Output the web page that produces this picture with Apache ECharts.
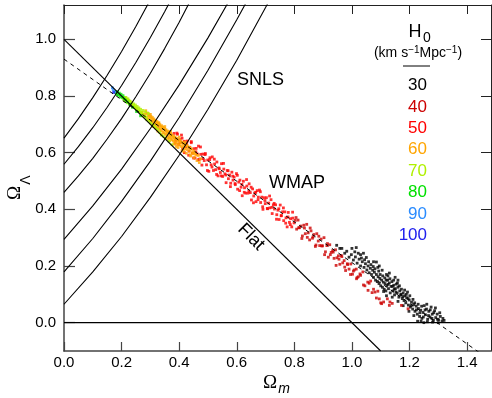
<!DOCTYPE html>
<html>
<head>
<meta charset="utf-8">
<script src="https://cdn.jsdelivr.net/npm/echarts@6/dist/echarts.min.js"></script>
<style>html,body{margin:0;padding:0;background:#fff}#c{width:492px;height:398px}</style>
</head>
<body>
<div id="c"></div>
<script>
// ---- data ----
const xTicks = [0, 0.2, 0.4, 0.6, 0.8, 1.0, 1.2, 1.4];
const yTicks = [0, 0.2, 0.4, 0.6, 0.8, 1.0];
const h0Labels = ['30', '40', '50', '60', '70', '80', '90', '100'];

const flatLine = [[0, 1], [1.1, -0.1]];
const wmapLine = [[0, 0.93], [1.45, -0.111]];
const zeroLine = [[0, 0], [1.5, 0]];

const snlsA = [[0,0.651],[0.05,0.720],[0.1,0.794],[0.15,0.873],[0.2,0.957],[0.25,1.046],[0.3,1.140]];
const snlsB = [[0,0.559],[0.05,0.621],[0.1,0.688],[0.15,0.760],[0.2,0.837],[0.25,0.919],[0.3,1.006],[0.35,1.098],[0.38,1.156]];
const snlsC = [[0,0.46],[0.05,0.518],[0.1,0.58],[0.15,0.648],[0.2,0.72],[0.25,0.798],[0.3,0.88],[0.35,0.968],[0.4,1.06],[0.45,1.158]];
const snlsD = [[0,0.294],[0.1,0.412],[0.2,0.542],[0.3,0.685],[0.4,0.839],[0.5,1.005],[0.6,1.183]];
const snlsE = [[0,0.179],[0.1,0.297],[0.2,0.428],[0.3,0.570],[0.4,0.724],[0.5,0.891],[0.6,1.069],[0.65,1.162]];
const snlsF = [[0,0.065],[0.1,0.179],[0.2,0.304],[0.3,0.442],[0.4,0.591],[0.5,0.753],[0.6,0.926],[0.7,1.112],[0.72,1.150]];

const h100 = [[0.172,0.812]];
const h90 = [[0.168,0.829],[0.171,0.822],[0.176,0.816]];
const h80 = [[0.180,0.812],[0.183,0.805],[0.186,0.815],[0.189,0.803],[0.192,0.810],[0.195,0.798],[0.198,0.806],[0.201,0.795],[0.205,0.801],[0.209,0.790],[0.214,0.785],[0.220,0.779],[0.228,0.771],[0.238,0.760],[0.252,0.745],[0.266,0.730]];
const h70 = [[0.205,0.792],[0.209,0.785],[0.212,0.795],[0.215,0.780],[0.218,0.789],[0.221,0.776],[0.224,0.785],[0.227,0.772],[0.230,0.781],[0.233,0.768],[0.236,0.777],[0.239,0.763],[0.242,0.772],[0.245,0.759],[0.248,0.768],[0.251,0.754],[0.254,0.763],[0.257,0.750],[0.260,0.758],[0.263,0.745],[0.266,0.753],[0.270,0.740],[0.274,0.749],[0.278,0.727],[0.283,0.744],[0.288,0.716],[0.293,0.738],[0.300,0.705],[0.312,0.695],[0.325,0.682],[0.338,0.662],[0.352,0.650],[0.365,0.640],[0.375,0.628],
  [0.215,0.795],[0.222,0.790],[0.228,0.782],[0.235,0.770],[0.241,0.766],[0.247,0.760],[0.253,0.756],[0.259,0.747],[0.265,0.741],[0.272,0.735],[0.280,0.730],[0.286,0.725],[0.295,0.712],[0.305,0.700],[0.318,0.688],[0.332,0.672],[0.345,0.658]];
const h60 = [[0.272,0.742],[0.278,0.735],[0.281,0.728],[0.285,0.738],[0.289,0.722],[0.292,0.730],[0.295,0.718],[0.298,0.726],[0.301,0.712],[0.303,0.721],[0.306,0.709],[0.308,0.716],[0.311,0.703],[0.313,0.712],[0.316,0.699],[0.318,0.708],[0.320,0.694],[0.322,0.703],[0.325,0.690],[0.327,0.700],[0.329,0.686],[0.331,0.695],[0.334,0.682],[0.336,0.691],[0.338,0.678],[0.341,0.688],[0.343,0.672],[0.345,0.684],[0.348,0.669],[0.350,0.679],[0.352,0.665],[0.355,0.676],[0.357,0.662],[0.359,0.671],[0.362,0.657],[0.364,0.668],[0.366,0.653],[0.369,0.663],[0.371,0.650],[0.373,0.660],[0.376,0.646],[0.378,0.655],[0.380,0.641],[0.383,0.652],[0.385,0.638],[0.388,0.648],[0.390,0.634],[0.393,0.644],[0.395,0.630],[0.398,0.641],[0.401,0.627],[0.404,0.636],[0.407,0.622],[0.410,0.633],[0.413,0.619],[0.416,0.628],[0.420,0.614],[0.423,0.625],[0.427,0.611],[0.431,0.620],[0.435,0.605],[0.440,0.614],[0.445,0.600],[0.451,0.606],[0.458,0.592],[0.466,0.590],[0.474,0.578],[0.462,0.572],[0.30,0.735],[0.33,0.705],[0.35,0.692],[0.37,0.675],[0.40,0.655],[0.42,0.637],[0.32,0.685],[0.36,0.648],[0.39,0.622],[0.44,0.588],[0.415,0.605],
  [0.284,0.748],[0.290,0.740],[0.296,0.733],[0.302,0.728],[0.307,0.724],[0.312,0.719],[0.317,0.714],[0.323,0.710],[0.328,0.705],[0.333,0.699],[0.339,0.695],[0.344,0.690],[0.349,0.685],[0.354,0.681],[0.360,0.676],[0.365,0.672],[0.370,0.668],[0.375,0.663],[0.381,0.658],[0.386,0.655],[0.392,0.650],[0.397,0.646],[0.403,0.643],[0.409,0.638],[0.414,0.634],[0.421,0.630],[0.428,0.625],[0.436,0.618],[0.443,0.612],[0.449,0.596],[0.455,0.598],[0.310,0.692],[0.326,0.676],[0.340,0.664],[0.354,0.652],[0.368,0.642],[0.382,0.630],[0.396,0.618],[0.410,0.608],[0.425,0.598],[0.438,0.592],[0.452,0.582],[0.470,0.565]];
const h50 = [[0.382,0.668],[0.388,0.643],[0.392,0.669],[0.398,0.629],[0.403,0.646],[0.408,0.662],[0.412,0.614],[0.418,0.640],[0.423,0.621],[0.428,0.641],[0.433,0.591],[0.437,0.619],[0.442,0.635],[0.446,0.598],[0.451,0.614],[0.455,0.581],[0.459,0.615],[0.463,0.595],[0.467,0.623],[0.471,0.577],[0.475,0.594],[0.479,0.556],[0.483,0.595],[0.487,0.572],[0.491,0.597],[0.495,0.557],[0.499,0.574],[0.503,0.534],[0.507,0.582],[0.511,0.557],[0.515,0.585],[0.519,0.537],[0.523,0.560],[0.527,0.540],[0.531,0.567],[0.535,0.518],[0.539,0.543],[0.543,0.530],[0.547,0.561],[0.551,0.516],[0.555,0.542],[0.559,0.525],[0.563,0.494],[0.567,0.537],[0.571,0.508],[0.575,0.521],[0.579,0.492],[0.583,0.531],[0.587,0.503],[0.591,0.514],[0.595,0.487],[0.599,0.526],[0.603,0.471],[0.607,0.496],[0.611,0.503],[0.615,0.478],[0.619,0.448],[0.623,0.499],[0.627,0.476],[0.631,0.457],[0.635,0.482],[0.639,0.457],[0.643,0.490],[0.647,0.459],[0.651,0.433],[0.655,0.472],[0.659,0.447],[0.663,0.458],[0.667,0.427],[0.671,0.466],[0.675,0.443],[0.679,0.468],[0.683,0.424],[0.687,0.443],[0.691,0.400],[0.695,0.441],[0.699,0.420],[0.703,0.441],[0.707,0.402],[0.711,0.422],[0.715,0.405],[0.719,0.434],[0.723,0.385],[0.727,0.416],[0.731,0.401],[0.735,0.416],[0.739,0.381],[0.743,0.397],[0.747,0.364],[0.751,0.415],[0.755,0.378],[0.759,0.391],[0.763,0.360],[0.767,0.391],[0.771,0.370],[0.775,0.338],[0.779,0.389],[0.783,0.354],[0.787,0.367],[0.791,0.338],[0.795,0.369],[0.799,0.352],
  [0.386,0.633],[0.394,0.665],[0.402,0.636],[0.410,0.651],[0.418,0.600],[0.426,0.632],[0.434,0.606],[0.442,0.639],[0.450,0.581],[0.458,0.603],[0.466,0.575],[0.474,0.620],[0.482,0.579],[0.490,0.593],[0.498,0.537],[0.506,0.575],[0.514,0.549],[0.522,0.577],[0.530,0.523],[0.538,0.546],[0.546,0.518],[0.554,0.562],[0.562,0.521],[0.570,0.536],[0.578,0.480],[0.586,0.517],[0.594,0.491],[0.602,0.520],[0.610,0.466],[0.618,0.488],[0.626,0.460],[0.634,0.505],[0.642,0.464],[0.650,0.478],[0.658,0.423],[0.666,0.460],[0.674,0.434],[0.682,0.462],[0.690,0.409],[0.698,0.431],[0.706,0.403],[0.714,0.447],[0.722,0.407],[0.730,0.421],[0.738,0.365],[0.746,0.402],[0.754,0.377],[0.762,0.405],[0.770,0.351],[0.778,0.373],[0.786,0.346],[0.794,0.390]];
const h40 = [[0.803,0.361],[0.808,0.330],[0.813,0.362],[0.818,0.335],[0.823,0.341],[0.828,0.306],[0.833,0.344],[0.838,0.314],[0.843,0.347],[0.848,0.317],[0.853,0.292],[0.858,0.324],[0.863,0.298],[0.868,0.311],[0.873,0.269],[0.878,0.314],[0.883,0.288],[0.888,0.272],[0.893,0.295],[0.898,0.271],[0.903,0.300],[0.908,0.250],[0.913,0.272],[0.918,0.231],[0.923,0.275],[0.928,0.248],[0.933,0.254],[0.938,0.227],[0.943,0.257],[0.948,0.229],[0.953,0.236],[0.958,0.206],[0.963,0.237],[0.968,0.211],[0.973,0.219],[0.978,0.184],[0.984,0.208],[0.990,0.189],[0.996,0.207],[1.002,0.171],[1.008,0.186],[1.015,0.189],[1.022,0.162],[1.030,0.167],[1.038,0.179],[1.045,0.130],[1.055,0.143],[1.065,0.147],[1.075,0.118],[1.085,0.087],[1.100,0.070],[1.110,0.073],[1.123,0.084],[1.13,0.061],[1.14,0.068],[1.056,0.114],[1.08,0.108],[1.103,0.067],[1.132,0.073],[1.172,0.061],[1.195,0.049],[1.016,0.155],
  [0.806,0.371],[0.815,0.335],[0.826,0.297],[0.835,0.334],[0.845,0.301],[0.855,0.334],[0.865,0.303],[0.875,0.274],[0.885,0.305],[0.895,0.271],[0.905,0.240],[0.915,0.279],[0.925,0.240],[0.935,0.249],[0.945,0.202],[0.955,0.224],[0.965,0.233],[0.975,0.196],[0.985,0.205],[0.995,0.170],[1.005,0.182],[1.018,0.159],[1.028,0.172],[1.040,0.133],[1.060,0.139],[1.070,0.106],[1.090,0.111],[1.095,0.084]];
const h30 = [[0.947,0.273],[0.958,0.262],[0.965,0.262],[0.975,0.245],[0.982,0.252],[0.990,0.231],[0.998,0.240],[1.005,0.221],[1.012,0.232],[1.018,0.210],[1.025,0.224],[1.030,0.200],[1.036,0.215],[1.042,0.195],[1.047,0.208],[1.052,0.186],[1.056,0.200],[1.060,0.176],[1.064,0.192],[1.068,0.170],[1.072,0.185],[1.075,0.160],[1.078,0.178],[1.082,0.150],[1.085,0.170],[1.088,0.145],[1.091,0.162],[1.094,0.138],[1.097,0.156],[1.100,0.130],[1.103,0.150],[1.106,0.125],[1.109,0.143],[1.112,0.118],[1.115,0.138],[1.118,0.112],[1.121,0.131],[1.124,0.150],[1.127,0.120],[1.130,0.140],[1.133,0.105],[1.136,0.128],[1.139,0.145],[1.142,0.112],[1.145,0.132],[1.148,0.098],[1.151,0.120],[1.154,0.136],[1.157,0.104],[1.160,0.125],[1.163,0.090],[1.166,0.112],[1.169,0.098],[1.172,0.118],[1.175,0.085],[1.178,0.105],[1.181,0.078],[1.184,0.095],[1.187,0.070],[1.190,0.088],[1.193,0.108],[1.196,0.062],[1.199,0.080],[1.203,0.055],[1.207,0.072],[1.211,0.048],[1.215,0.064],[1.219,0.040],[1.223,0.058],[1.227,0.030],[1.231,0.050],[1.235,0.022],[1.239,0.044],[1.243,0.015],[1.247,0.036],[1.251,0.060],[1.255,0.028],[1.259,0.048],[1.263,0.012],[1.267,0.040],[1.271,0.020],[1.275,0.055],[1.279,0.030],[1.283,0.008],[1.287,0.042],[1.291,0.018],[1.296,0.030],[1.301,0.010],[1.307,0.022],[1.313,0.005],[1.320,0.008],[1.228,0.005],[1.25,0.0],[1.105,0.185],[1.09,0.195],[1.15,0.16],[1.12,0.17],[1.05,0.23],[1.03,0.24],[1.085,0.214],[1.13,0.175],[1.16,0.15],
  [1.000,0.262],[1.010,0.250],[1.022,0.245],[1.033,0.228],[1.044,0.222],[1.058,0.215],[1.066,0.205],[1.074,0.198],[1.080,0.190],[1.093,0.182],[1.098,0.170],[1.107,0.165],[1.114,0.158],[1.119,0.150],[1.126,0.135],[1.132,0.155],[1.141,0.128],[1.147,0.118],[1.153,0.108],[1.158,0.140],[1.165,0.130],[1.171,0.100],[1.177,0.092],[1.183,0.115],[1.189,0.100],[1.195,0.085],[1.201,0.095],[1.206,0.060],[1.212,0.082],[1.218,0.070],[1.224,0.045],[1.230,0.065],[1.236,0.035],[1.242,0.058],[1.248,0.020],[1.254,0.045],[1.260,0.065],[1.266,0.025],[1.272,0.045],[1.278,0.015],[1.284,0.035],[1.290,0.052],[1.297,0.012],[1.305,0.035],[1.316,0.015],[1.240,0.005],[1.262,0.003],[1.280,0.002],[1.300,0.0],[1.215,0.025],[1.198,0.040],[1.178,0.060],[1.160,0.075],[1.140,0.090],[1.120,0.095],[1.110,0.110],[1.125,0.165],[1.145,0.150],[1.095,0.200],[1.075,0.215],[1.040,0.245],[1.015,0.265]];

// ---- styles ----
const h0Colors = ['#000000', '#cc0000', '#ff0000', '#ffa500', '#b0f000', '#00e000', '#2a8cff', '#2020ee'];
const groups = [h30, h40, h50, h60, h70, h80, h90, h100];

const FONT = '"Liberation Sans", Arial, Helvetica, sans-serif';
const SERIF = '"Liberation Serif", "Times New Roman", serif';
const axisCol = '#444';

const chart = echarts.init(document.getElementById('c'), null, {renderer: 'canvas'});

const series = [];
groups.forEach((g, i) => {
  series.push({type: 'scatter', data: g, symbol: 'rect', symbolSize: 2.8,
    itemStyle: {color: h0Colors[i]}, z: 2, silent: true, animation: false});
});
[snlsA, snlsB, snlsC, snlsD, snlsE, snlsF, flatLine, zeroLine].forEach(d => {
  series.push({type: 'line', data: d, showSymbol: false, symbol: 'none', clip: true,
    lineStyle: {color: '#000', width: 1.1}, z: 3, silent: true, animation: false});
});
series.push({type: 'line', data: wmapLine, showSymbol: false, symbol: 'none', clip: true,
  lineStyle: {color: '#000', width: 1, type: [4, 4]}, z: 3, silent: true, animation: false});

const graphics = [
  {type: 'text', x: 237, y: 80, style: {text: 'SNLS', font: '18px ' + FONT, fill: '#000', align: 'left', verticalAlign: 'middle', textAlign: 'left', textVerticalAlign: 'middle'}},
  {type: 'text', x: 269, y: 183, style: {text: 'WMAP', font: '18px ' + FONT, fill: '#000', align: 'left', verticalAlign: 'middle', textAlign: 'left', textVerticalAlign: 'middle'}},
  {type: 'text', x: 251, y: 237, rotation: -Math.PI / 4, style: {text: 'Flat', font: '18px ' + FONT, fill: '#000', align: 'center', verticalAlign: 'middle', textAlign: 'center', textVerticalAlign: 'middle'}},
  {type: 'text', x: 415, y: 32, style: {text: 'H', font: '18px ' + FONT, fill: '#000', align: 'center', verticalAlign: 'middle', textAlign: 'center', textVerticalAlign: 'middle'}},
  {type: 'text', x: 427, y: 38, style: {text: '0', font: '14px ' + FONT, fill: '#000', align: 'center', verticalAlign: 'middle', textAlign: 'center', textVerticalAlign: 'middle'}},
  {type: 'text', x: 418, y: 53, style: {
    text: '{a|(km s}{b|\u22121}{a|Mpc}{b|\u22121}{a|)}', align: 'center', verticalAlign: 'middle', textAlign: 'center', textVerticalAlign: 'middle',
    rich: {a: {font: '14px ' + FONT, fill: '#000', color: '#000', lineHeight: 16},
           b: {font: '10px ' + FONT, fill: '#000', color: '#000', lineHeight: 16, verticalAlign: 'top', padding: [0, 0, 6, 0]}}}},
  {type: 'line', shape: {x1: 403, y1: 66, x2: 430, y2: 66}, style: {stroke: '#000', lineWidth: 1}},
  {type: 'text', x: 270, y: 383.5, style: {text: '\u03A9', font: '19px ' + SERIF, fill: '#000', align: 'center', verticalAlign: 'middle', textAlign: 'center', textVerticalAlign: 'middle'}},
  {type: 'text', x: 284, y: 389, style: {text: 'm', font: 'italic 14px ' + FONT, fill: '#000', align: 'center', verticalAlign: 'middle', textAlign: 'center', textVerticalAlign: 'middle'}},
  {type: 'text', x: 15, y: 193, rotation: Math.PI / 2, style: {text: '\u03A9', font: '19px ' + SERIF, fill: '#000', align: 'center', verticalAlign: 'middle', textAlign: 'center', textVerticalAlign: 'middle'}},
  {type: 'text', x: 26, y: 180, rotation: Math.PI / 2, style: {text: '\u039B', font: '14px ' + FONT, fill: '#000', align: 'center', verticalAlign: 'middle', textAlign: 'center', textVerticalAlign: 'middle'}}
];
h0Labels.forEach((t, i) => {
  graphics.push({type: 'text', x: 427, y: 85.5 + 21.4 * i, style: {text: t, font: '17px ' + FONT, fill: h0Colors[i], align: 'right', verticalAlign: 'middle', textAlign: 'right', textVerticalAlign: 'middle'}});
});

const baseX = {type: 'value', min: 0, max: 1.483, splitLine: {show: false}};
const baseY = {type: 'value', min: -0.1, max: 1.121, splitLine: {show: false}};

chart.setOption({
  animation: false,
  grid: {left: 64, right: 1, top: 5, bottom: 47, containLabel: false},
  xAxis: [
    Object.assign({}, baseX, {position: 'bottom',
      axisLine: {show: true, onZero: false, lineStyle: {color: axisCol, width: 1.5}},
      axisTick: {show: true, inside: true, length: 9, customValues: xTicks, lineStyle: {color: axisCol, width: 1.2}},
      axisLabel: {show: true, customValues: xTicks, margin: 4, color: '#000', fontSize: 15, fontFamily: FONT, formatter: v => v.toFixed(1)}}),
    Object.assign({}, baseX, {position: 'top',
      axisLine: {show: true, onZero: false, lineStyle: {color: '#222', width: 1}},
      axisTick: {show: true, inside: true, length: 9, customValues: xTicks, lineStyle: {color: '#222', width: 1}},
      axisLabel: {show: false}})
  ],
  yAxis: [
    Object.assign({}, baseY, {position: 'left',
      axisLine: {show: true, onZero: false, lineStyle: {color: axisCol, width: 1.5}},
      axisTick: {show: true, inside: true, length: 11, customValues: yTicks, lineStyle: {color: axisCol, width: 1.2}},
      axisLabel: {show: true, customValues: yTicks, margin: 8, color: '#000', fontSize: 15, fontFamily: FONT, formatter: v => v.toFixed(1)}}),
    Object.assign({}, baseY, {position: 'right',
      axisLine: {show: true, onZero: false, lineStyle: {color: '#222', width: 1}},
      axisTick: {show: true, inside: true, length: 10, customValues: yTicks, lineStyle: {color: '#222', width: 1}},
      axisLabel: {show: false}})
  ],
  graphic: graphics,
  series: series
});
</script>
</body>
</html>
